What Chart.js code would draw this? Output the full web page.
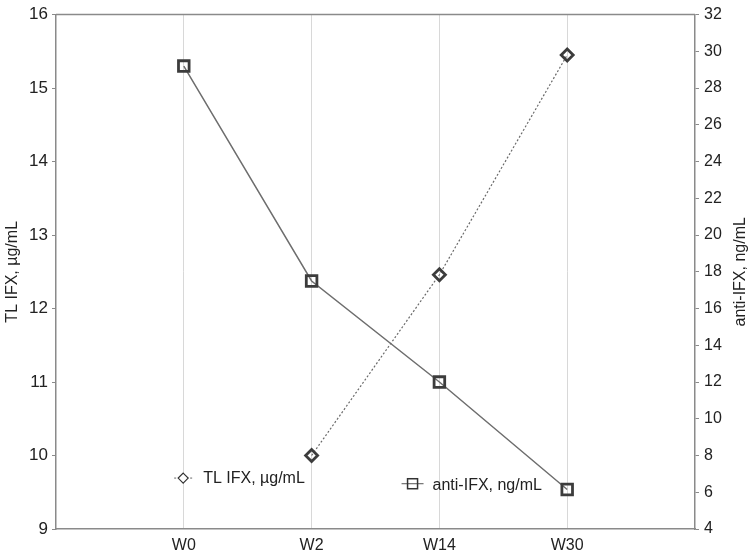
<!DOCTYPE html>
<html>
<head>
<meta charset="utf-8">
<script src="https://cdn.jsdelivr.net/npm/chart.js@4"></script>
<style>
html,body{margin:0;padding:0;background:#fff;}
#wrap{width:750px;height:555px;position:relative;}
</style>
</head>
<body>
<div id="wrap"><canvas id="c" width="750" height="555"></canvas></div>
<script>
const categories = ['', 'W0', 'W2', 'W14', 'W30', ''];
const tlIfx = [null, null, 10.0, 12.46, 15.45, null];
const antiIfx = [null, 29.2, 17.5, 12.0, 6.15, null];
const leftTicks = [9, 10, 11, 12, 13, 14, 15, 16];
const rightTicks = [4, 6, 8, 10, 12, 14, 16, 18, 20, 22, 24, 26, 28, 30, 32];
const tlLabel = 'TL IFX, µg/mL';
const antiLabel = 'anti-IFX, ng/mL';

const FONT = 'Liberation Sans, Arial, sans-serif';
const AXIS = '#8a8a8a';

const framePlugin = {
  id: 'frame',
  afterDraw(chart) {
    const {ctx, chartArea: a} = chart;
    ctx.save();
    ctx.strokeStyle = AXIS;
    ctx.lineWidth = 1.5;
    ctx.beginPath();
    ctx.moveTo(a.left, a.top);
    ctx.lineTo(a.right, a.top);
    ctx.stroke();
    // right axis title, reading bottom-to-top like the left one
    ctx.font = '16px ' + FONT;
    ctx.fillStyle = '#222';
    ctx.textAlign = 'center';
    ctx.textBaseline = 'middle';
    ctx.save();
    ctx.translate(chart.width - 9, (a.top + a.bottom) / 2);
    ctx.rotate(-Math.PI / 2);
    ctx.fillText(antiLabel, 0, 0);
    ctx.restore();
    // custom in-plot legend
    const w = a.right - a.left, h = a.bottom - a.top;
    // item 1: diamond with dashed line
    let mx = a.left + w * 0.199, my = a.top + h * 0.901;
    ctx.strokeStyle = '#666';
    ctx.lineWidth = 1;
    ctx.setLineDash([2, 2]);
    ctx.beginPath(); ctx.moveTo(mx - 9, my); ctx.lineTo(mx + 9, my); ctx.stroke();
    ctx.setLineDash([]);
    ctx.fillStyle = '#fff';
    ctx.strokeStyle = '#333';
    ctx.lineWidth = 1.2;
    ctx.beginPath();
    ctx.moveTo(mx, my - 5); ctx.lineTo(mx + 5, my); ctx.lineTo(mx, my + 5); ctx.lineTo(mx - 5, my); ctx.closePath();
    ctx.fill(); ctx.stroke();
    ctx.fillStyle = '#222';
    ctx.textAlign = 'left';
    ctx.fillText(tlLabel, mx + 20, my + 1);
    // item 2: square with solid line
    mx = a.left + w * 0.558; my = a.top + h * 0.912;
    ctx.strokeStyle = '#555';
    ctx.lineWidth = 1;
    ctx.beginPath(); ctx.moveTo(mx - 11, my); ctx.lineTo(mx + 11, my); ctx.stroke();
    ctx.strokeStyle = '#333';
    ctx.lineWidth = 1.5;
    ctx.strokeRect(mx - 5, my - 5, 10, 10);
    ctx.fillStyle = '#222';
    ctx.fillText(antiLabel, mx + 20, my + 2);
    ctx.restore();
  }
};

new Chart(document.getElementById('c'), {
  type: 'line',
  data: {
    labels: categories,
    datasets: [
      {
        label: tlLabel,
        data: tlIfx,
        yAxisID: 'yL',
        borderColor: '#6a6a6a',
        borderWidth: 1.2,
        borderDash: [2, 2],
        pointStyle: 'rectRot',
        pointRadius: 6,
        pointBorderWidth: 2.8,
        pointBorderColor: '#3c3c3c',
        pointBackgroundColor: 'rgba(255,255,255,0)',
        tension: 0,
        fill: false
      },
      {
        label: antiLabel,
        data: antiIfx,
        yAxisID: 'yR',
        borderColor: '#6e6e6e',
        borderWidth: 1.5,
        pointStyle: 'rect',
        pointRadius: 7.5,
        pointBorderWidth: 2.8,
        pointBorderColor: '#3c3c3c',
        pointBackgroundColor: 'rgba(255,255,255,0)',
        tension: 0,
        fill: false
      }
    ]
  },
  options: {
    responsive: false,
    animation: false,
    devicePixelRatio: 1,
    layout: { padding: { top: 10, left: 0, right: 0, bottom: 0 } },
    plugins: {
      legend: { display: false },
      tooltip: { enabled: false }
    },
    scales: {
      x: {
        type: 'category',
        offset: false,
        border: { display: true, color: AXIS, width: 1.5 },
        grid: {
          drawTicks: false,
          color: (c) => (c.index === 0 || c.index === categories.length - 1) ? 'rgba(0,0,0,0)' : '#d8d8d8',
          lineWidth: 1
        },
        ticks: { color: '#222', font: { family: FONT, size: 16 }, padding: 7, autoSkip: false, maxRotation: 0 },
        afterFit(s) { s.height = 26; }
      },
      yL: {
        type: 'linear',
        position: 'left',
        min: 9, max: 16,
        afterBuildTicks(s) { s.ticks = leftTicks.map(v => ({ value: v })); },
        border: { display: true, color: AXIS, width: 1.5 },
        grid: { drawOnChartArea: false, drawTicks: true, tickLength: 4, color: AXIS },
        ticks: { color: '#222', font: { family: FONT, size: 17 }, padding: 4 },
        title: { display: true, text: tlLabel, color: '#222', font: { family: FONT, size: 16 }, padding: { top: 3, bottom: 0 } },
        afterFit(s) { s.width = 56; }
      },
      yR: {
        type: 'linear',
        position: 'right',
        min: 4, max: 32,
        afterBuildTicks(s) { s.ticks = rightTicks.map(v => ({ value: v })); },
        border: { display: true, color: AXIS, width: 1.5 },
        grid: { drawOnChartArea: false, drawTicks: true, tickLength: 4, color: AXIS },
        ticks: { color: '#222', font: { family: FONT, size: 16 }, padding: 5 },
        afterFit(s) { s.width = 55; }
      }
    }
  },
  plugins: [framePlugin]
});
</script>
</body>
</html>
